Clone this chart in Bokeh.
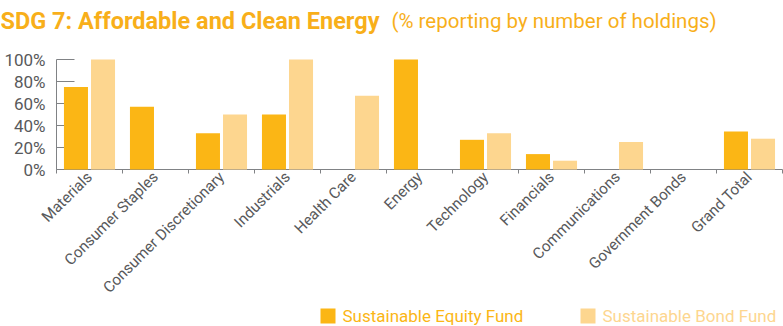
import numpy as np
from bokeh.plotting import figure
from bokeh.layouts import column, row
from bokeh.models import Range1d, FixedTicker, NumeralTickFormatter, ColumnDataSource
from bokeh.core.properties import value
from bokeh.transform import dodge
from bokeh.embed import file_html
from bokeh.resources import INLINE

categories = ["Materials", "Consumer Staples", "Consumer Discretionary", "Industrials",
              "Health Care", "Energy", "Technology", "Financials", "Communications",
              "Government Bonds", "Grand Total"]
equity = [0.75, 0.57, 0.33, 0.50, 0.0, 1.00, 0.27, 0.14, 0.0, 0.0, 0.345]
bond = [1.00, 0.0, 0.50, 1.00, 0.67, 0.0, 0.33, 0.08, 0.25, 0.0, 0.28]
y_ticks = [0, 0.2, 0.4, 0.6, 0.8, 1.0]
series_names = ["Sustainable Equity Fund", "Sustainable Bond Fund"]
title_main = "SDG 7: Affordable and Clean Energy"
title_sub = "(% reporting by number of holdings)"

EQ_COLOR = "#FBB615"
BD_COLOR = "#FDD68F"
TITLE_COLOR = "#F8AF1A"
TEXT_GRAY = "#58595B"
AXIS_GRAY = "#808285"
FONT = "Roboto"
W = 783


def blank_fig(h):
    f = figure(width=W, height=h, output_backend="svg", toolbar_location=None,
               x_range=Range1d(0, W), y_range=Range1d(0, h),
               x_axis_type=None, y_axis_type=None, min_border=0)
    f.outline_line_color = None
    f.grid.grid_line_color = None
    return f


# ---- title strip ----
t = blank_fig(45)
t.text(x=[0], y=[25], text=[title_main], text_font=value(FONT),
       text_font_style="bold", text_font_size="23.5px", text_color=TITLE_COLOR,
       text_baseline="alphabetic", text_align="left")
t.text(x=[391], y=[25], text=[title_sub], text_font=value(FONT),
       text_font_size="20.5px", text_color=TITLE_COLOR,
       text_baseline="alphabetic", text_align="left")

# ---- main chart ----
n = len(categories)
centers = list(np.arange(n) + 0.5)
bounds = list(np.arange(n + 1))
src = ColumnDataSource(dict(x=centers, equity=equity, bond=bond, cat=categories))

p = figure(width=W, height=260, output_backend="svg", toolbar_location=None,
           x_range=Range1d(0, n), y_range=Range1d(0, 1.0),
           min_border_left=56, min_border_right=1, min_border_top=14, min_border_bottom=133)
p.outline_line_color = None
p.grid.grid_line_color = None

p.vbar(x=dodge("x", -0.205), top="equity", width=0.364, source=src,
       fill_color=EQ_COLOR, line_color=None, level="annotation")
p.vbar(x=dodge("x", 0.205), top="bond", width=0.364, source=src,
       fill_color=BD_COLOR, line_color=None, level="annotation")

xa = p.xaxis[0]
xa.ticker = FixedTicker(ticks=centers, minor_ticks=bounds)
xa.major_label_overrides = {c: lab for c, lab in zip(centers, categories)}
xa.major_label_orientation = np.pi / 4
xa.major_tick_in = 0
xa.major_tick_out = 0
xa.minor_tick_in = 0
xa.minor_tick_out = 4
xa.minor_tick_line_color = AXIS_GRAY
xa.axis_line_color = AXIS_GRAY
xa.major_label_text_font = FONT
xa.major_label_text_font_size = "15.3px"
xa.major_label_text_color = TEXT_GRAY
xa.major_label_standoff = 1

ya = p.yaxis[0]
ya.ticker = FixedTicker(ticks=y_ticks, minor_ticks=[])
ya.formatter = NumeralTickFormatter(format="0%")
ya.major_tick_in = 18
ya.major_tick_out = 0
ya.major_tick_line_color = AXIS_GRAY
ya.axis_line_color = AXIS_GRAY
ya.major_label_text_font = FONT
ya.major_label_text_font_size = "17px"
ya.major_label_text_color = TEXT_GRAY
ya.major_label_standoff = 11

# ---- legend strip ----
lg = blank_fig(21)
leg_src = ColumnDataSource(dict(sx=[327.5, 587.5], tx=[342, 602], name=series_names,
                                color=[EQ_COLOR, BD_COLOR]))
lg.scatter(x="sx", y=10.5, size=15, marker="square", fill_color="color",
           line_color=None, source=leg_src)
lg.text(x="tx", y=11, text="name", text_color="color", text_font=value(FONT),
        text_font_size="17px", text_baseline="alphabetic", text_align="left",
        source=leg_src)

layout = column(row(t), p, row(lg), spacing=0)
open("out.html", "w").write(file_html(layout, INLINE))
